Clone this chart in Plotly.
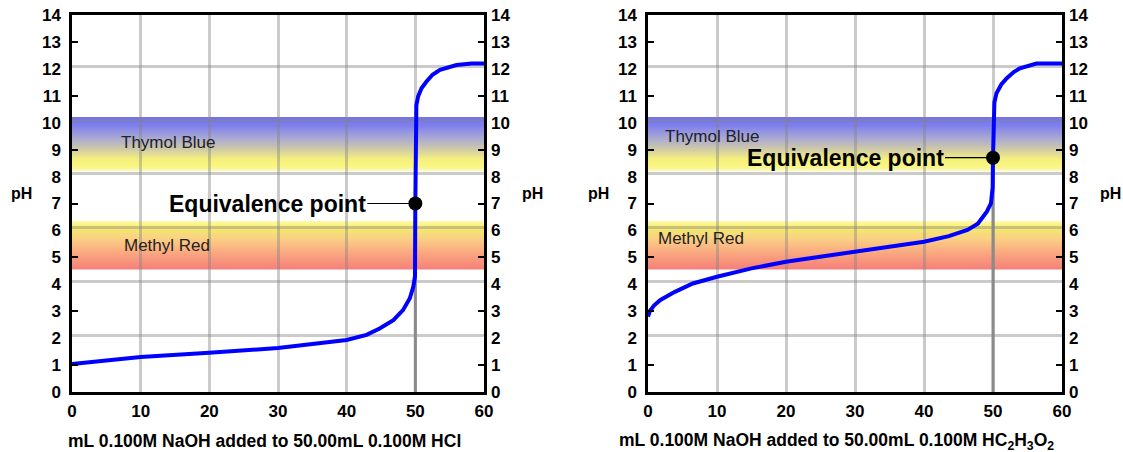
import plotly.graph_objects as go

# ---------------- data ----------------
# strong acid (HCl) titration curve
hcl_ml = [0, 10, 20, 30, 40, 42.9, 44.8, 46.8, 48.2, 49.2, 49.7, 49.95, 50, 50.05,
          50.15, 50.4, 50.9, 51.6, 52.5, 53.6, 55, 56, 58.2, 60]
hcl_ph = [1.04, 1.30, 1.46, 1.63, 1.93, 2.12, 2.36, 2.67, 3.04, 3.48, 3.91, 4.30, 7.0, 10.45,
          10.65, 10.97, 11.28, 11.52, 11.78, 11.96, 12.08, 12.14, 12.2, 12.2]
# weak acid (acetic acid) titration curve
hac_ml = [0, 0.3, 0.9, 1.8, 3.9, 6.5, 10, 15, 20, 25, 30, 35, 40, 43.6, 46.3, 47.8, 49.1,
          49.7, 49.95, 50, 50.05, 50.2, 50.5, 51.2, 52, 53, 53.9, 56.3, 60]
hac_ph = [2.80, 3.02, 3.22, 3.42, 3.72, 4.03, 4.28, 4.59, 4.84, 5.02, 5.19, 5.40, 5.58, 5.79, 6.02, 6.25, 6.70,
          7.0, 7.6, 8.7, 10.47, 10.75, 11.09, 11.42, 11.65, 11.88, 12.02, 12.2, 12.2]

equiv_ml = [50, 50]
equiv_ph = [7.0, 8.7]

indicator_names = ["Thymol Blue", "Methyl Red"]
indicator_low = [8.2, 4.55]
indicator_high = [10.2, 6.35]

x_ticks = [0, 10, 20, 30, 40, 50, 60]
y_ticks = list(range(0, 15))
y_tickmarks = [1, 3, 5, 7, 9, 11, 13]
y_grid = [2.1, 4.1, 6.1, 8.1, 10.1, 12.1]

x_titles = ["mL 0.100M NaOH added to 50.00mL 0.100M HCl",
            "mL 0.100M NaOH added to 50.00mL 0.100M HC<sub>2</sub>H<sub>3</sub>O<sub>2</sub>"]

# ---------------- styling ----------------
W, H = 1123, 452
x_domains = [[72 / W, 484 / W], [648 / W, 1062 / W]]
y_domain = [1 - 392 / H, 1 - 15 / H]
title_centers = [0.467, 0.455]
FONT = "Liberation Sans, Arial, sans-serif"
GRID = "rgba(130,130,130,0.42)"

# gradient stops (fraction from bottom, rgb)
band_stops = [
    [(0.00, (250, 248, 205)), (0.08, (250, 246, 130)), (0.22, (246, 240, 125)),
     (0.42, (205, 200, 170)), (0.62, (168, 168, 212)), (0.85, (126, 126, 238)), (1.00, (116, 116, 240))],
    [(0.00, (246, 128, 122)), (0.20, (248, 150, 125)), (0.45, (250, 182, 130)),
     (0.65, (250, 210, 132)), (0.80, (244, 228, 112)), (0.92, (252, 244, 125)), (1.00, (255, 250, 175))],
]


def interp_color(stops, t):
    for (t0, c0), (t1, c1) in zip(stops[:-1], stops[1:]):
        if t0 <= t <= t1:
            f = 0 if t1 == t0 else (t - t0) / (t1 - t0)
            return "rgb(%d,%d,%d)" % tuple(round(a + (b - a) * f) for a, b in zip(c0, c1))
    return "rgb(%d,%d,%d)" % stops[-1][1]


fig = go.Figure()
shapes = []
annotations = []
N = 40

curves = [(hcl_ml, hcl_ph), (hac_ml, hac_ph)]
band_label_pos = [[(14, 9.25), (13.8, 5.45)], [(9.3, 9.5), (7.7, 5.7)]]

for i in range(2):
    xa = "x" if i == 0 else "x2"
    ya = "y" if i == 0 else "y4"
    yr = "y2" if i == 0 else "y5"
    yt = "y3" if i == 0 else "y6"

    # indicator bands (gradient via stacked strips, each running to the band top)
    for b in range(2):
        lo, hi = indicator_low[b], indicator_high[b]
        step = (hi - lo) / N
        for k in range(N):
            t = (k + 0.5) / N
            shapes.append(dict(type="rect", xref=xa + " domain", yref=ya,
                               x0=0, x1=1, y0=lo + k * step, y1=hi,
                               fillcolor=interp_color(band_stops[b], t),
                               line=dict(width=0), layer="below"))
        lx, ly = band_label_pos[i][b]
        annotations.append(dict(x=lx, y=ly, xref=xa, yref=ya, text=indicator_names[b],
                                showarrow=False, font=dict(family=FONT, size=17, color="#222")))

    # drop line at the equivalence volume
    fig.add_trace(go.Scatter(x=[equiv_ml[i], equiv_ml[i]], y=[0, equiv_ph[i]], mode="lines",
                             line=dict(color="#8a8a8a", width=3), xaxis=xa, yaxis=ya,
                             hoverinfo="skip", showlegend=False))
    # titration curve
    fig.add_trace(go.Scatter(x=curves[i][0], y=curves[i][1], mode="lines",
                             line=dict(color="#0000ff", width=4), xaxis=xa, yaxis=ya,
                             showlegend=False))
    # equivalence point
    fig.add_trace(go.Scatter(x=[equiv_ml[i]], y=[equiv_ph[i]], mode="markers",
                             marker=dict(color="black", size=14), xaxis=xa, yaxis=ya,
                             showlegend=False))
    # helper traces so overlay axes are drawn
    for ax in (yr, yt):
        fig.add_trace(go.Scatter(x=[None], y=[None], xaxis=xa, yaxis=ax, showlegend=False,
                                 hoverinfo="skip"))

    annotations.append(dict(x=equiv_ml[i], y=equiv_ph[i], xref=xa, yref=ya,
                            text="<b>Equivalence point</b>", showarrow=True, arrowhead=0,
                            arrowwidth=1.2, arrowcolor="black", ax=-148, ay=0, standoff=0,
                            font=dict(family=FONT, size=23, color="black")))
    # x title
    annotations.append(dict(x=title_centers[i], y=1 - 441 / H, xref=xa + " domain", yref="paper",
                            yanchor="middle", xanchor="center",
                            text="<b>" + x_titles[i] + "</b>", showarrow=False,
                            font=dict(family=FONT, size=17.5, color="black")))

    xd = x_domains[i]
    # pH labels
    annotations.append(dict(x=xd[0] - 50 / W, y=1 - 193 / H, xref="paper", yref="paper",
                            yanchor="middle", xanchor="center",
                            text="<b>pH</b>", showarrow=False,
                            font=dict(family=FONT, size=16, color="black")))
    annotations.append(dict(x=xd[1] + 48 / W, y=1 - 193 / H, xref="paper", yref="paper",
                            yanchor="middle", xanchor="center",
                            text="<b>pH</b>", showarrow=False,
                            font=dict(family=FONT, size=16, color="black")))

    tickfont = dict(family=FONT, size=17, color="black", weight="bold")
    xkey = "xaxis" if i == 0 else "xaxis2"
    yk = "yaxis" if i == 0 else "yaxis4"
    yrk = "yaxis2" if i == 0 else "yaxis5"
    ytk = "yaxis3" if i == 0 else "yaxis6"
    fig.layout[xkey] = dict(domain=xd, range=[0, 60], anchor=ya, tickvals=x_ticks,
                            showgrid=True, gridcolor=GRID, gridwidth=3, zeroline=False,
                            showline=True, linecolor="black", linewidth=2.5, mirror=True,
                            ticks="", tickfont=tickfont, ticklabelstandoff=2,
                            automargin=False, fixedrange=True)
    fig.layout[yk] = dict(domain=y_domain, range=[0, 14], anchor=xa, tickvals=y_ticks,
                          showgrid=False, zeroline=False, showline=True, linecolor="black",
                          linewidth=2.5, mirror=True, ticks="", tickfont=tickfont,
                          ticklabelstandoff=5, automargin=False,
                          minor=dict(tickvals=y_grid, showgrid=True, gridcolor=GRID,
                                     gridwidth=3, ticks=""))
    fig.layout[yrk] = dict(overlaying=ya, side="right", anchor=xa, range=[0, 14],
                           tickvals=y_ticks, showgrid=False, zeroline=False, showline=False,
                           ticks="", tickfont=tickfont, ticklabelstandoff=6, automargin=False)
    fig.layout[ytk] = dict(overlaying=ya, side="left", anchor=xa, range=[0, 14],
                           tickvals=y_tickmarks, showgrid=False, zeroline=False,
                           showline=True, linecolor="black", linewidth=2.5, mirror="ticks",
                           ticks="inside", ticklen=6, tickwidth=2, tickcolor="black",
                           showticklabels=False, automargin=False)

fig.update_layout(width=W, height=H, autosize=False,
                  margin=dict(l=0, r=0, t=0, b=0, pad=0, autoexpand=False),
                  paper_bgcolor="white", plot_bgcolor="white",
                  shapes=shapes, annotations=annotations, showlegend=False)

fig.write_html("out.html", config={"responsive": False, "displayModeBar": False},
               post_script="document.body.style.margin='0px';"
                           "document.body.style.overflow='hidden';")
